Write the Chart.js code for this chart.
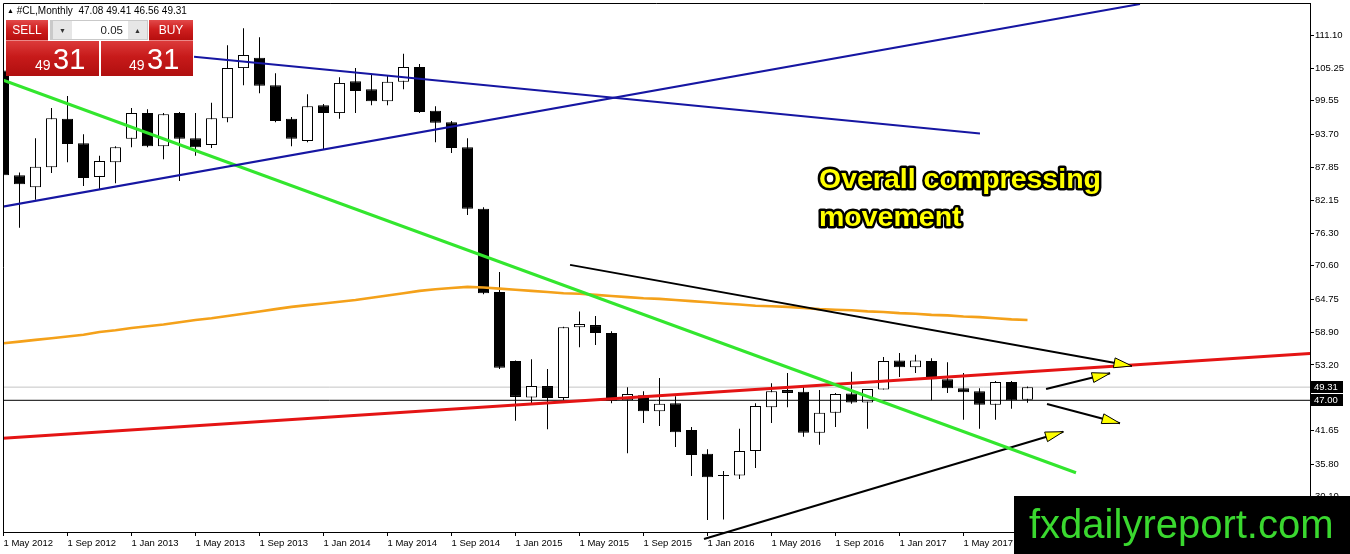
<!DOCTYPE html>
<html>
<head>
<meta charset="utf-8">
<script src="https://cdn.jsdelivr.net/npm/chart.js@4.4.1/dist/chart.umd.min.js"></script>
<style>
  html, body { margin: 0; padding: 0; background: #fff; }
  #wrap { position: relative; width: 1350px; height: 554px; overflow: hidden;
          font-family: 'Liberation Sans', Arial, sans-serif; }
  #wrap canvas { position: absolute; left: 0; top: 0; }
  .ov { position: absolute; }
  #title { left: 7px; top: 5px; font-size: 10px; color: #000; white-space: nowrap; line-height: 12px; }
  #title .tri { font-size: 7px; vertical-align: 1px; }
  .red { background: linear-gradient(#e24a4a 0%, #cf1f1f 45%, #b60e0e 100%); color: #fff; }
  .btn { display: flex; align-items: center; justify-content: center; font-size: 12px;
         box-sizing: border-box; border-bottom: 1px solid rgba(255,255,255,0.35); }
  .big { background: linear-gradient(#dc3a3a 0%, #c71a1a 45%, #b00f0f 100%); }
  .spin { background: #c9c9c9; }
  .sb { position: absolute; top: 1px; width: 19px; height: 18px; background: #e6e6e6;
        font-size: 7px; color: #333; display: flex; align-items: center; justify-content: center; }
  .inp { position: absolute; left: 22px; top: 1px; width: 56px; height: 18px; background: #fff;
         font-size: 11.5px; line-height: 18px; text-align: right; box-sizing: border-box;
         padding-right: 5px; color: #222; }
  .sm { font-size: 14px; line-height: 14px; color: #fff; }
  .lg { font-size: 29px; line-height: 29px; color: #fff; }
</style>
</head>
<body>
<div id="wrap">
  <canvas id="chart" width="1350" height="554"></canvas>

  <div id="title" class="ov"><span class="tri">▲</span> #CL,Monthly&nbsp; 47.08 49.41 46.56 49.31</div>
  <div class="ov red btn" style="left:6px;top:20px;width:42px;height:21px">SELL</div>
  <div class="ov spin" style="left:50px;top:20px;width:98px;height:20px">
    <div class="sb" style="left:3px">▼</div>
    <div class="inp">0.05</div>
    <div class="sb" style="left:78px">▲</div>
  </div>
  <div class="ov red btn" style="left:149px;top:20px;width:44px;height:21px">BUY</div>
  <div class="ov big" style="left:6px;top:41px;width:93px;height:35px"></div>
  <div class="ov big" style="left:101px;top:41px;width:92px;height:35px"></div>
  <span class="ov sm" style="left:35px;top:58px">49</span>
  <span class="ov lg" style="left:53px;top:45px">31</span>
  <span class="ov sm" style="left:129px;top:58px">49</span>
  <span class="ov lg" style="left:147px;top:45px">31</span>
</div>

<script>
// monthly bars, May 2012 .. Sep 2017
const OPEN = [
  104.90, 86.50, 84.40, 87.90, 96.40, 92.10, 86.20, 88.80, 92.90, 97.40,
  91.60, 97.40, 93.00, 91.80, 96.50, 105.30, 107.10, 102.30, 96.40, 92.50,
  98.80, 97.40, 103.00, 101.60, 99.50, 102.90, 105.50, 97.80, 95.80, 91.40,
  80.60, 66.00, 53.90, 47.50, 49.50, 47.40, 59.80, 60.20, 58.80, 47.00,
  47.90, 45.10, 46.50, 41.80, 37.60, 33.70, 33.80, 38.10, 45.80, 48.80,
  48.50, 41.30, 44.80, 48.20, 46.60, 48.90, 54.00, 52.80, 53.90, 50.70,
  49.10, 48.60, 46.20, 50.20, 47.08,
];
const HIGH = [
  106.40, 87.00, 93.00, 98.30, 100.40, 93.70, 89.90, 91.60, 98.30, 98.10,
  97.40, 97.60, 97.40, 99.20, 109.30, 112.30, 110.70, 104.40, 96.70, 100.70,
  99.00, 103.70, 105.30, 104.30, 104.10, 107.80, 106.00, 98.60, 96.00, 93.00,
  80.90, 69.50, 54.00, 54.20, 52.50, 59.90, 62.60, 61.80, 59.10, 49.30,
  48.60, 50.90, 47.70, 42.30, 38.40, 34.60, 42.00, 46.50, 50.00, 51.80,
  49.40, 48.80, 48.30, 52.00, 49.00, 54.60, 55.30, 55.00, 54.40, 53.70,
  51.80, 49.10, 50.40, 50.40, 49.41,
];
const LOW = [
  85.90, 77.30, 82.20, 86.90, 88.80, 84.60, 84.10, 85.10, 91.40, 91.40,
  89.30, 85.50, 89.90, 91.30, 95.80, 102.30, 100.90, 95.80, 91.60, 92.30,
  91.10, 96.40, 97.40, 98.80, 98.80, 101.60, 97.40, 92.30, 90.40, 79.50,
  65.60, 52.50, 43.40, 46.50, 41.90, 47.00, 56.30, 56.70, 46.50, 37.70,
  43.00, 42.50, 38.80, 33.70, 26.00, 26.10, 33.20, 35.10, 43.00, 45.80,
  40.60, 39.20, 42.30, 46.40, 42.00, 48.90, 51.10, 51.80, 47.00, 48.30,
  43.60, 42.00, 43.60, 45.50, 46.56,
];
const CLOSE = [
  86.50, 84.90, 88.00, 96.50, 92.00, 86.00, 89.00, 91.40, 97.40, 91.60,
  97.20, 92.90, 91.40, 96.50, 105.30, 107.60, 102.20, 96.00, 92.90, 98.60,
  97.40, 102.70, 101.30, 99.50, 102.90, 105.50, 97.60, 95.70, 91.30, 80.60,
  65.80, 52.70, 47.60, 49.50, 47.40, 59.80, 60.40, 58.80, 46.90, 48.10,
  45.10, 46.40, 41.40, 37.40, 33.50, 33.75, 38.10, 46.00, 48.60, 48.30,
  41.30, 44.80, 48.10, 46.60, 49.00, 53.90, 52.80, 54.00, 50.70, 49.10,
  48.40, 46.20, 50.20, 47.00, 49.31,
];
// orange moving average
const MA = [
  57.0, 57.3, 57.6, 57.9, 58.2, 58.5, 59.0, 59.3, 59.7, 60.0,
  60.3, 60.7, 61.1, 61.4, 61.8, 62.2, 62.6, 63.0, 63.4, 63.7,
  64.0, 64.3, 64.6, 65.0, 65.4, 65.8, 66.2, 66.5, 66.7, 66.9,
  66.8, 66.6, 66.4, 66.2, 66.0, 65.8, 65.7, 65.5, 65.3, 65.1,
  64.9, 64.8, 64.6, 64.4, 64.2, 64.0, 63.8, 63.6, 63.5, 63.4,
  63.2, 63.0, 62.9, 62.8, 62.6, 62.5, 62.3, 62.2, 62.0, 61.9,
  61.7, 61.6, 61.4, 61.2, 61.1,
];

const xTickBars   = [0, 4, 8, 12, 16, 20, 24, 28, 32, 36, 40, 44, 48, 52, 56, 60];
const xTickLabels = ['1 May 2012', '1 Sep 2012', '1 Jan 2013', '1 May 2013', '1 Sep 2013',
  '1 Jan 2014', '1 May 2014', '1 Sep 2014', '1 Jan 2015', '1 May 2015', '1 Sep 2015',
  '1 Jan 2016', '1 May 2016', '1 Sep 2016', '1 Jan 2017', '1 May 2017'];
const yTickValues = [111.10, 105.25, 99.55, 93.70, 87.85, 82.15, 76.30, 70.60, 64.75,
  58.90, 53.20, 41.65, 35.80, 30.10];

const BID   = 49.31;
const LEVEL = 47.00;

// trendlines as [bar index, price]
const blueFalling = [[11.91, 107.30], [61.03, 93.82]];
const blueRising  = [[-0.05, 80.98], [71.03, 116.55]];
const greenLine   = [[-0.05, 103.21], [67.03, 34.29]];
const redLine     = [[-0.05, 40.33], [81.66, 55.20]];
const blackTop    = [[35.41, 70.77], [70.53, 53.02]];
const blackBottom = [[43.78, 22.66], [66.24, 41.49]];
const arrowUp     = [[65.16, 48.98], [69.16, 51.74]];
const arrowDown   = [[65.22, 46.35], [69.78, 42.96]];

const FONT = "'Liberation Sans', Arial, sans-serif";
Chart.defaults.font.family = FONT;
Chart.defaults.font.size   = 9.5;
Chart.defaults.color       = '#000';

const bars = OPEN.map((_, i) => i);
const toXY = (pts) => pts.map(([x, y]) => ({ x, y }));

function trend(data, color, width, extra = {}) {
  return {
    type: 'line', data: toXY(data), borderColor: color, borderWidth: width,
    pointRadius: 0, tension: 0, fill: false, order: 5, ...extra,
  };
}

// 화살촉 + 프레임 + 가격표 + 텍스트
const overlay = {
  id: 'overlay',
  beforeDraw(chart) {
    const { ctx } = chart;
    ctx.save();
    ctx.fillStyle = '#fff';
    ctx.fillRect(0, 0, chart.width, chart.height);
    ctx.restore();
  },
  afterDatasetsDraw(chart) {
    const { ctx } = chart;
    chart.data.datasets.forEach((ds, i) => {
      if (!ds.arrow) return;
      const pts = chart.getDatasetMeta(i).data;
      const a = pts[0], b = pts[pts.length - 1];
      const ang = Math.atan2(b.y - a.y, b.x - a.x);
      const len = 18, half = 5;
      const bx = b.x - len * Math.cos(ang), by = b.y - len * Math.sin(ang);
      ctx.save();
      ctx.beginPath();
      ctx.moveTo(b.x, b.y);
      ctx.lineTo(bx + half * Math.sin(ang), by - half * Math.cos(ang));
      ctx.lineTo(bx - half * Math.sin(ang), by + half * Math.cos(ang));
      ctx.closePath();
      ctx.fillStyle = '#ffff00';
      ctx.fill();
      ctx.strokeStyle = '#000';
      ctx.lineWidth = 1;
      ctx.stroke();
      ctx.restore();
    });
  },
  afterDraw(chart) {
    const { ctx, chartArea: area, scales: { y } } = chart;
    ctx.save();
    // frame top / left
    ctx.strokeStyle = '#000';
    ctx.lineWidth = 1;
    ctx.beginPath();
    ctx.moveTo(area.left + 0.5, area.bottom);
    ctx.lineTo(area.left + 0.5, area.top + 0.5);
    ctx.lineTo(area.right, area.top + 0.5);
    ctx.stroke();

    // price tags on the axis
    ctx.font = `9.5px ${FONT}`;
    ctx.textBaseline = 'middle';
    [BID, LEVEL].forEach((v) => {
      const py = Math.round(y.getPixelForValue(v));
      ctx.fillStyle = '#000';
      ctx.fillRect(area.right + 1, py - 6, 32, 12);
      ctx.fillStyle = '#fff';
      ctx.fillText(v.toFixed(2), area.right + 4, py + 0.5);
    });

    // annotation
    ctx.font = `bold 28.5px ${FONT}`;
    ctx.textBaseline = 'alphabetic';
    ctx.lineJoin = 'round';
    ctx.lineWidth = 5;
    ctx.strokeStyle = '#000';
    ctx.fillStyle = '#ffff00';
    [['Overall compressing', 188], ['movement', 226]].forEach(([t, by]) => {
      ctx.strokeText(t, 819, by);
      ctx.fillText(t, 819, by);
    });

    // watermark
    ctx.fillStyle = '#000';
    ctx.fillRect(1014, 496, 336, 58);
    ctx.fillStyle = '#3ad82f';
    ctx.font = `40px ${FONT}`;
    ctx.fillText('fxdailyreport.com', 1029, 538);
    ctx.restore();
  },
};

new Chart(document.getElementById('chart'), {
  type: 'bar',
  data: {
    datasets: [
      {
        type: 'line', data: [{ x: -1, y: BID }, { x: 90, y: BID }],
        borderColor: '#c4c4c4', borderWidth: 1, pointRadius: 0, order: 30,
      },
      {
        type: 'bar', data: bars.map((i) => ({ x: i, y: [LOW[i], HIGH[i]] })),
        backgroundColor: '#000', barThickness: 1, grouped: false,
        borderWidth: 0, inflateAmount: 0, order: 29,
      },
      {
        type: 'bar', data: bars.map((i) => ({ x: i, y: [OPEN[i], CLOSE[i]] })),
        backgroundColor: bars.map((i) => (CLOSE[i] >= OPEN[i] ? '#fff' : '#000')),
        borderColor: '#000', borderWidth: 1, borderSkipped: false,
        barThickness: 11, grouped: false, minBarLength: 1, inflateAmount: 0, order: 28,
      },
      {
        type: 'line', data: bars.map((i) => ({ x: i, y: MA[i] })),
        borderColor: '#f4a11a', borderWidth: 2.6, pointRadius: 0, tension: 0, order: 20,
      },
      {
        type: 'line', data: [{ x: -1, y: LEVEL }, { x: 90, y: LEVEL }],
        borderColor: '#000', borderWidth: 1, pointRadius: 0, order: 10,
      },
      trend(blueFalling, '#1616a2', 2),
      trend(blueRising,  '#1616a2', 2),
      trend(greenLine,   '#33e62e', 3),
      trend(redLine,     '#e41414', 3),
      trend(blackTop,    '#000', 2, { arrow: true }),
      trend(blackBottom, '#000', 2, { arrow: true, clip: false }),
      trend(arrowUp,     '#000', 2, { arrow: true }),
      trend(arrowDown,   '#000', 2, { arrow: true }),
    ],
  },
  options: {
    responsive: false,
    devicePixelRatio: 1,
    animation: false,
    events: [],
    layout: { padding: { left: 3, top: 3, right: 0, bottom: 0 } },
    plugins: { legend: { display: false }, tooltip: { enabled: false } },
    scales: {
      x: {
        type: 'linear', position: 'bottom', offset: false,
        min: -0.03125, max: 81.65625,
        afterBuildTicks: (axis) => { axis.ticks = xTickBars.map((v) => ({ value: v })); },
        afterFit: (axis) => { axis.height = 22; axis.paddingLeft = 0; axis.paddingRight = 0; },
        ticks: {
          autoSkip: false, maxRotation: 0, align: 'start', padding: 2,
          callback: (v, i) => xTickLabels[i],
        },
        grid: { drawOnChartArea: false, tickLength: 4, color: '#000', offset: false },
        border: { color: '#000', width: 1 },
      },
      y: {
        type: 'linear', position: 'right',
        min: 23.887, max: 116.727,
        afterBuildTicks: (axis) => { axis.ticks = yTickValues.map((v) => ({ value: v })); },
        afterFit: (axis) => { axis.width = 40; axis.paddingTop = 0; axis.paddingBottom = 0; },
        ticks: { autoSkip: false, padding: 1, callback: (v) => v.toFixed(2) },
        grid: { drawOnChartArea: false, tickLength: 4, color: '#000' },
        border: { color: '#000', width: 1 },
      },
    },
  },
  plugins: [overlay],
});
</script>
</body>
</html>
